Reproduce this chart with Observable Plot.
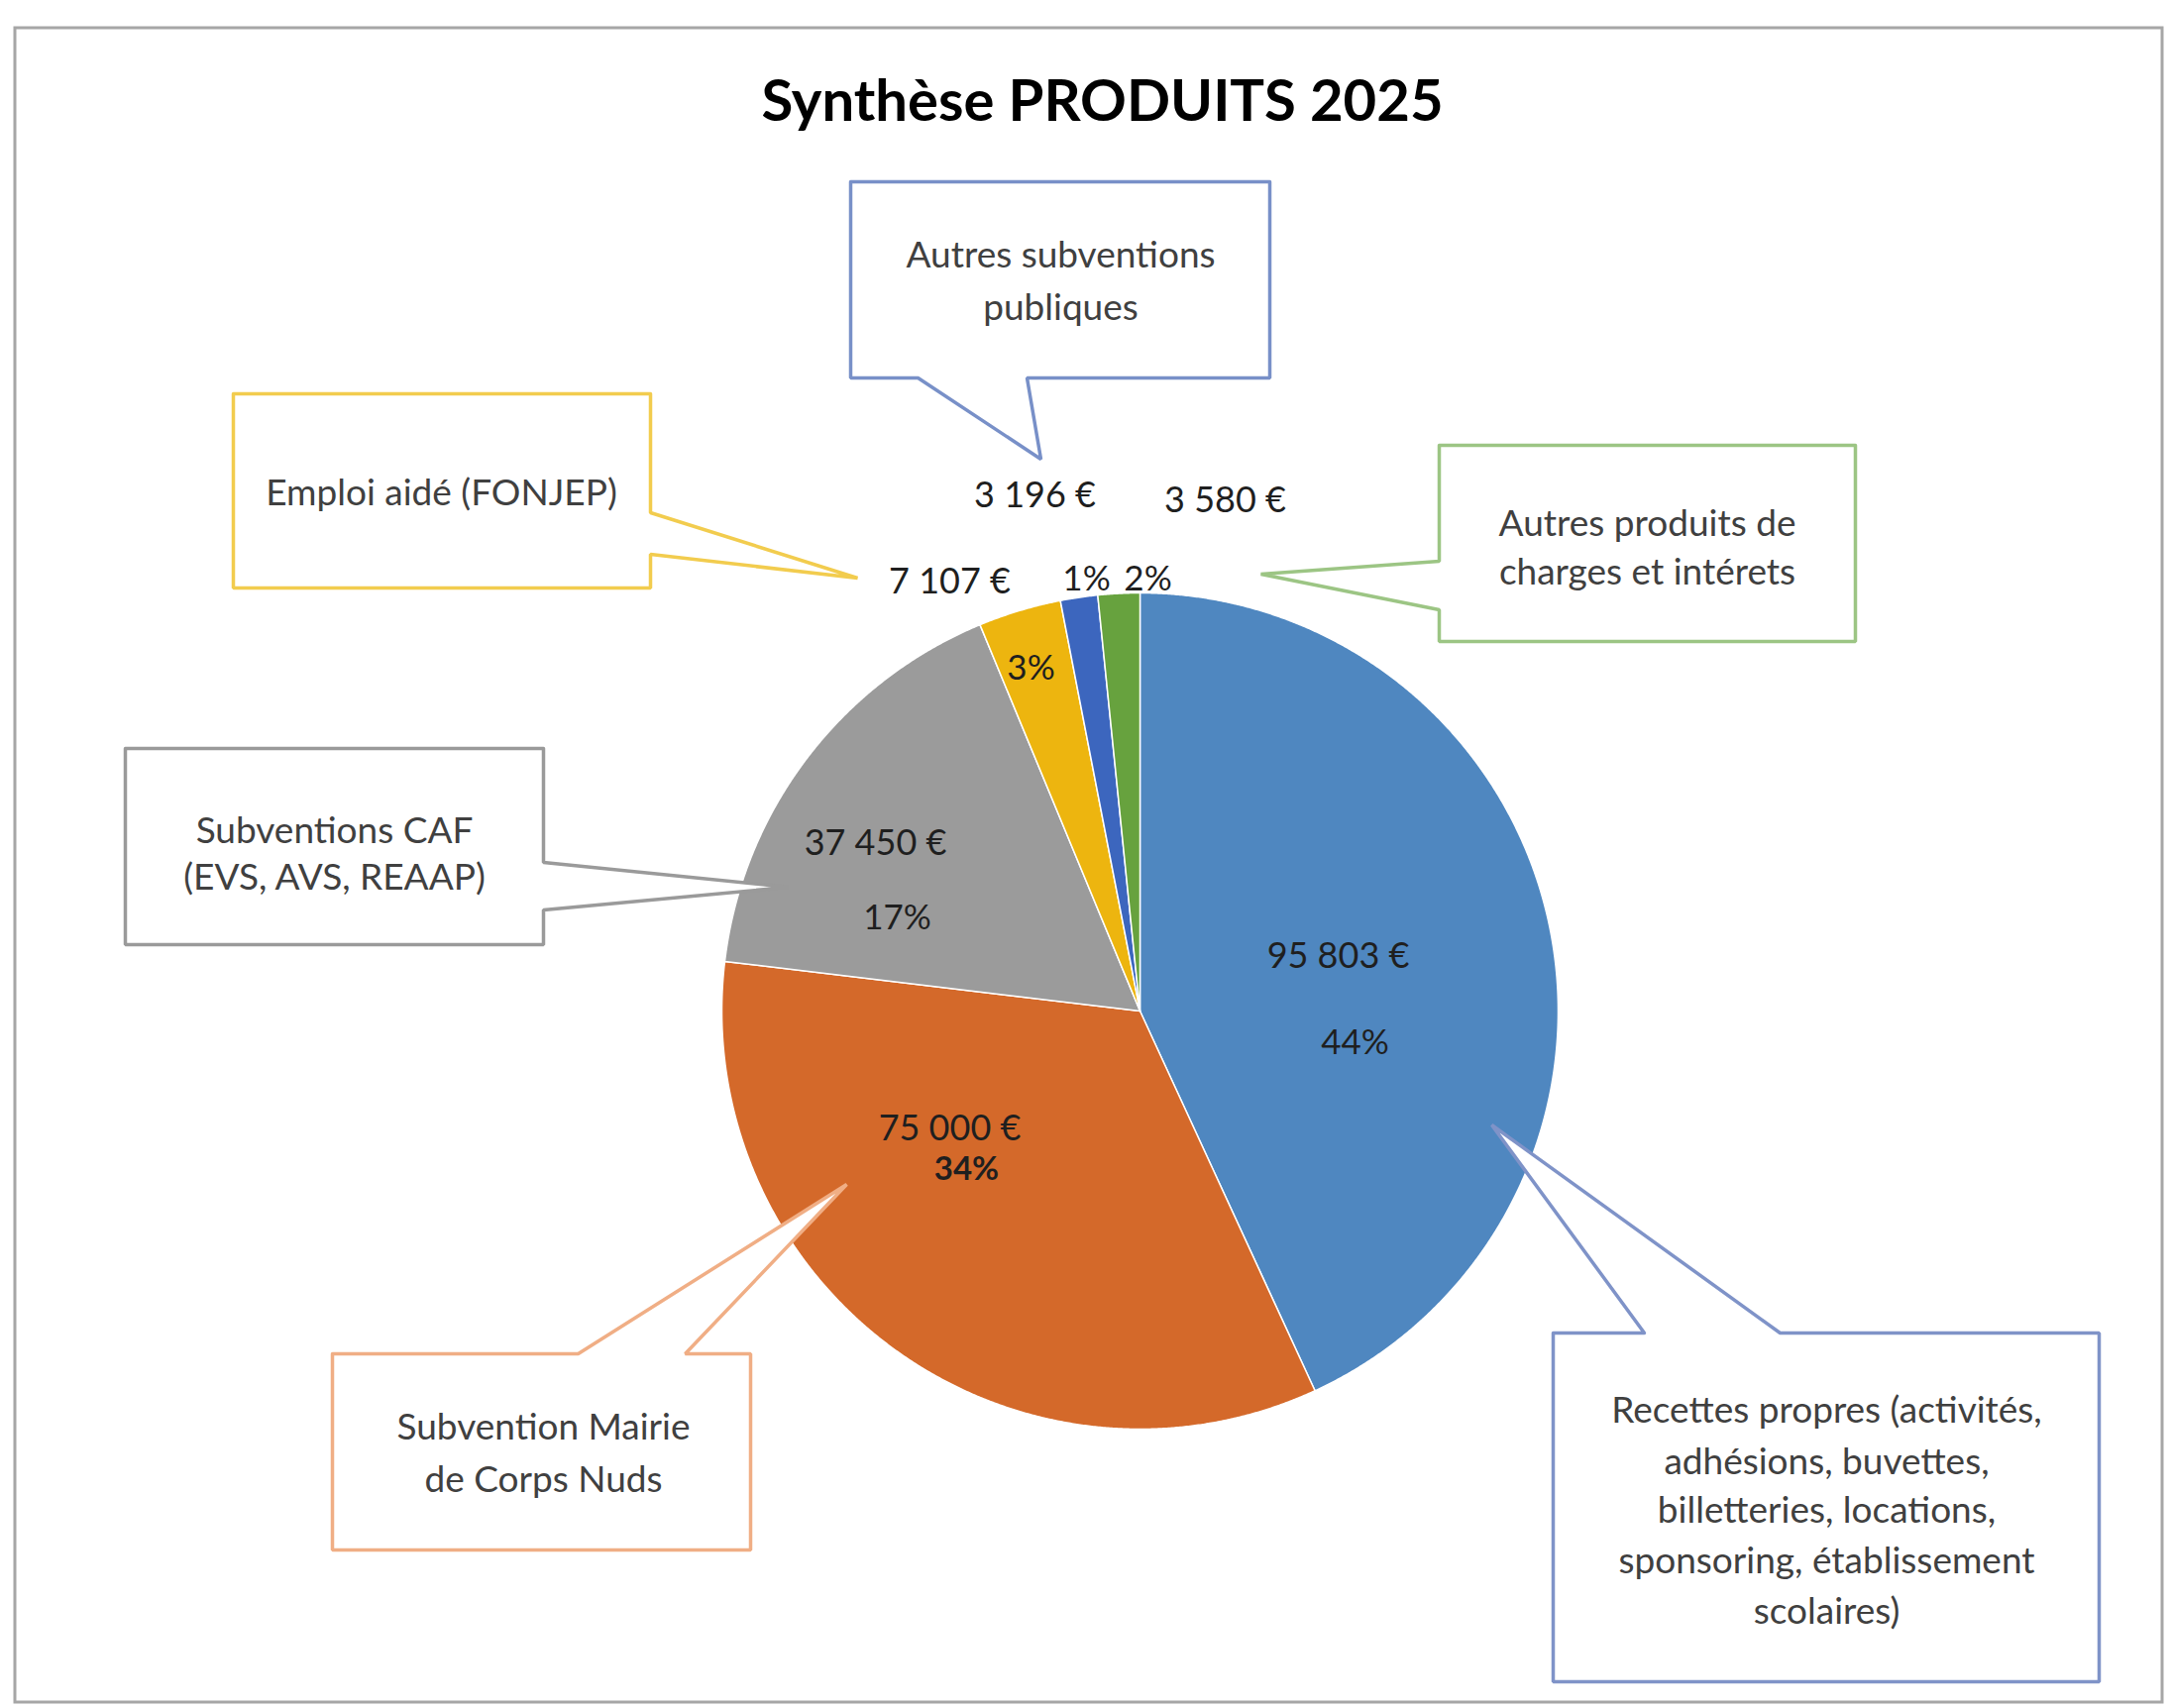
<!DOCTYPE html>
<html><head><meta charset="utf-8">
<script src="https://cdn.jsdelivr.net/npm/d3@7"></script>
<script src="https://cdn.jsdelivr.net/npm/@observablehq/plot@0.6"></script>
<style>html,body{margin:0;padding:0;background:#fff;overflow:hidden} svg{display:block}</style>
</head><body><div id="chart"></div>
<script>
// ---- data ----
const title = "Synthèse PRODUITS 2025";
const categories = ["Recettes propres", "Subvention Mairie", "Subventions CAF", "Emploi aidé", "Autres subventions publiques", "Autres produits"];
const values = [95803, 75000, 37450, 7107, 3196, 3580];
const valueLabels = ["95 803 €", "75 000 €", "37 450 €", "7 107 €", "3 196 €", "3 580 €"];
const percentLabels = ["44%", "34%", "17%", "3%", "1%", "2%"];
const calloutTexts = [
  ["Recettes propres (activités,", "adhésions, buvettes,", "billetteries, locations,", "sponsoring, établissement", "scolaires)"],
  ["Subvention Mairie", "de Corps Nuds"],
  ["Subventions CAF", "(EVS, AVS, REAAP)"],
  ["Emploi aidé (FONJEP)"],
  ["Autres subventions", "publiques"],
  ["Autres produits de", "charges et intérets"]
];

// ---- styles & layout ----
const colors = ["#4F87C0", "#D4692A", "#9B9B9B", "#EDB50F", "#3C66BE", "#67A23E"];
const calloutStroke = ["#7F93C8", "#F0AE85", "#9A9A9A", "#F2CC4E", "#7890C8", "#9CC584"];
const W = 2191, H = 1724;
const FONT = "Lato, 'Open Sans', sans-serif";
const pie = {cx: 1150, cy: 1020, r: 422};
const boxes = [
  {x0: 1567, y0: 1345, x1: 2118, y1: 1697, side: "top", a: 1659, b: 1796, tip: [1505, 1135], lines: [1435, 1487, 1536, 1587, 1638], tx: 1843},
  {x0: 335, y0: 1366, x1: 757, y1: 1564, side: "top", a: 583, b: 691, tip: [854, 1195], lines: [1452, 1505], tx: 548},
  {x0: 126, y0: 755, x1: 548, y1: 953, side: "right", a: 870, b: 918, tip: [795, 895], lines: [850, 897], tx: 337},
  {x0: 235, y0: 397, x1: 656, y1: 593, side: "right", a: 517, b: 559, tip: [865, 583], lines: [509], tx: 445},
  {x0: 858, y0: 183, x1: 1281, y1: 381, side: "bottom", a: 926, b: 1036, tip: [1050, 463], lines: [269, 322], tx: 1070},
  {x0: 1452, y0: 449, x1: 1872, y1: 647, side: "left", a: 566, b: 615, tip: [1272, 579], lines: [540, 589], tx: 1662}
];
const valuePos = [[1350, 976], [958, 1150], [883, 862], [958, 598], [1044, 511], [1236, 516]];
const pctPos = [[1367, 1063], [975, 1190], [905, 937], [1040, 685], [1096, 595], [1158, 595]];
const pctWeight = ["normal", "bold", "normal", "normal", "normal", "normal"];

// ---- slices from values ----
const arcs = d3.pie().sort(null).value(d => d)(values);
const slicePts = arcs.flatMap((a, i) => {
  const n = Math.max(4, Math.ceil((a.endAngle - a.startAngle) / 0.004));
  const pts = [{cat: categories[i], x: pie.cx, y: pie.cy}];
  for (let k = 0; k <= n; k++) {
    const t = a.startAngle + (a.endAngle - a.startAngle) * k / n;
    pts.push({cat: categories[i], x: pie.cx + pie.r * Math.sin(t), y: pie.cy - pie.r * Math.cos(t)});
  }
  pts.push({cat: categories[i], x: pie.cx, y: pie.cy});
  return pts;
});

function outline(b) {
  const {x0, y0, x1, y1, a, side} = b, bb = b.b, t = b.tip;
  let p;
  if (side === "top") p = [[x0, y0], [a, y0], t, [bb, y0], [x1, y0], [x1, y1], [x0, y1], [x0, y0]];
  else if (side === "right") p = [[x0, y0], [x1, y0], [x1, a], t, [x1, bb], [x1, y1], [x0, y1], [x0, y0]];
  else if (side === "bottom") p = [[x0, y0], [x1, y0], [x1, y1], [bb, y1], t, [a, y1], [x0, y1], [x0, y0]];
  else p = [[x0, y0], [x1, y0], [x1, y1], [x0, y1], [x0, bb], t, [x0, a], [x0, y0]];
  p.push(p[1]);
  return p.map(([x, y]) => ({x, y}));
}

const calloutMarks = boxes.map((b, i) => Plot.line(outline(b), {
  x: "x", y: "y", fill: "white", stroke: calloutStroke[i], strokeWidth: 3.5, strokeLinejoin: "miter"
}));
const calloutLines = boxes.flatMap((b, i) => calloutTexts[i].map((s, j) => ({s, x: b.tx, y: b.lines[j]})));
const valueData = valueLabels.map((s, i) => ({s, x: valuePos[i][0], y: valuePos[i][1]}));
const pctData = percentLabels.map((s, i) => ({s, x: pctPos[i][0], y: pctPos[i][1], w: pctWeight[i]}));

const chart = Plot.plot({
  width: W, height: H, margin: 0,
  style: {fontFamily: FONT, background: "#fff"},
  x: {domain: [0, W], range: [0, W], axis: null},
  y: {domain: [0, H], range: [0, H], axis: null},
  color: {domain: categories, range: colors},
  marks: [
    Plot.rect([0], {x1: 15, x2: 2182, y1: 28, y2: 1718, fill: "none", stroke: "#a6a6a6", strokeWidth: 3}),
    Plot.text([title], {x: 1112, y: 121, text: d => d, fontSize: 58, fontWeight: "bold", fill: "#000", lineAnchor: "bottom", fontFamily: FONT}),
    Plot.line(slicePts, {x: "x", y: "y", z: "cat", fill: "cat", stroke: "white", strokeWidth: 1.5, strokeLinejoin: "round"}),
    ...calloutMarks,
    Plot.text(calloutLines, {x: "x", y: "y", text: "s", fontSize: 37, fill: "#404040", lineAnchor: "bottom", fontFamily: FONT}),
    Plot.text(valueData, {x: "x", y: "y", text: "s", fontSize: 36, fill: "#1f1f1f", lineAnchor: "bottom", fontFamily: FONT}),
    Plot.text(pctData.filter(d => d.w === "normal"), {x: "x", y: "y", text: "s", fontSize: 35, fill: "#1f1f1f", lineAnchor: "bottom", fontFamily: FONT}),
    Plot.text(pctData.filter(d => d.w === "bold"), {x: "x", y: "y", text: "s", fontSize: 33, fontWeight: "bold", fill: "#1f1f1f", lineAnchor: "bottom", fontFamily: FONT})
  ]
});
document.getElementById("chart").appendChild(chart);
</script>
</body></html>
